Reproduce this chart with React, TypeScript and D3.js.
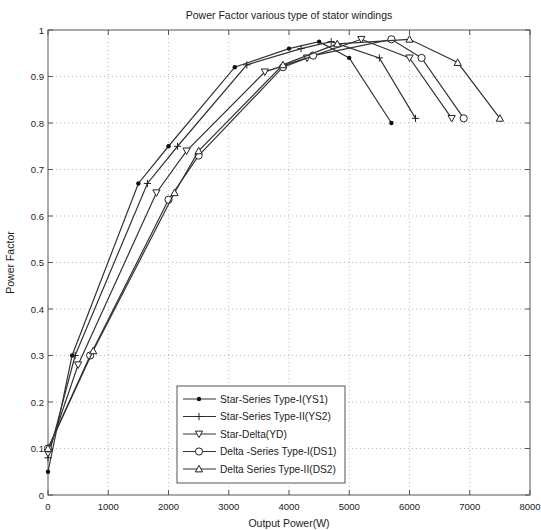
import React from 'react'
import * as d3 from 'd3'

// output power (W) / power factor
const ys1: [number, number][] = [[0, 0.05], [400, 0.30], [1500, 0.67], [2000, 0.75], [3100, 0.92], [4000, 0.96], [4500, 0.975], [5000, 0.94], [5700, 0.80]]
const ys2: [number, number][] = [[0, 0.08], [450, 0.30], [1650, 0.67], [2150, 0.75], [3300, 0.925], [4200, 0.96], [4700, 0.975], [5500, 0.94], [6100, 0.81]]
const yd: [number, number][] = [[0, 0.09], [500, 0.28], [1800, 0.65], [2300, 0.74], [3600, 0.91], [4300, 0.94], [5200, 0.98], [6000, 0.94], [6700, 0.81]]
const ds1: [number, number][] = [[0, 0.1], [700, 0.30], [2000, 0.635], [2500, 0.73], [3900, 0.92], [4400, 0.945], [5700, 0.98], [6200, 0.94], [6900, 0.81]]
const ds2: [number, number][] = [[0, 0.1], [750, 0.31], [2100, 0.65], [2500, 0.74], [3900, 0.925], [4800, 0.97], [6000, 0.98], [6800, 0.93], [7500, 0.81]]

const seriesNames = ['Star-Series Type-I(YS1)', 'Star-Series Type-II(YS2)', 'Star-Delta(YD)', 'Delta -Series Type-I(DS1)', 'Delta Series Type-II(DS2)']
const seriesMarkers = ['dot', 'plus', 'down', 'circle', 'up']
const seriesData = [ys1, ys2, yd, ds1, ds2]

const xTicks = [0, 1000, 2000, 3000, 4000, 5000, 6000, 7000, 8000]
const yTicks = [0, 0.1, 0.2, 0.3, 0.4, 0.5, 0.6, 0.7, 0.8, 0.9, 1]

function Marker({ type, x, y }: { type: string; x: number; y: number }) {
  const s = 3.6
  const st = { fill: 'white', stroke: '#222', strokeWidth: 1 }
  if (type === 'dot') return <circle cx={x} cy={y} r={2.2} fill="#111" />
  if (type === 'plus') return <path d={`M${x - s} ${y}H${x + s}M${x} ${y - s}V${y + s}`} stroke="#222" strokeWidth={1} />
  if (type === 'circle') return <circle cx={x} cy={y} r={s} {...st} />
  if (type === 'down') return <path d={`M${x - s} ${y - s * 0.8}H${x + s}L${x} ${y + s}Z`} {...st} />
  return <path d={`M${x - s} ${y + s * 0.8}H${x + s}L${x} ${y - s}Z`} {...st} />
}

function App() {
  const width = 541
  const height = 530
  const margin = { top: 30, right: 11, bottom: 35, left: 48 }
  const innerW = width - margin.left - margin.right
  const innerH = height - margin.top - margin.bottom

  const xScale = d3.scaleLinear().domain([0, 8000]).range([0, innerW])
  const yScale = d3.scaleLinear().domain([0, 1]).range([innerH, 0])
  const line = d3.line<[number, number]>().x(d => xScale(d[0])).y(d => yScale(d[1]))

  const font = '"Liberation Sans", Arial, sans-serif'
  const legend = { x: 129, y: 356, w: 168, h: 97 }

  return (
    <div style={{ position: 'absolute', left: 0, top: 0 }}>
      <svg width={width} height={height} style={{ display: 'block', background: 'white', overflow: 'hidden' }} fontFamily={font}>
        <text x={margin.left + innerW / 2} y={19} textAnchor="middle" fontSize={10.5} fill="#222">Power Factor various type of stator windings</text>
        <g transform={`translate(${margin.left} ${margin.top})`}>
          {/* dotted grid */}
          {xTicks.slice(1, -1).map(t => <line key={'gx' + t} x1={xScale(t)} x2={xScale(t)} y1={0} y2={innerH} stroke="#aaa" strokeWidth={0.8} strokeDasharray="1 3" />)}
          {yTicks.slice(1, -1).map(t => <line key={'gy' + t} x1={0} x2={innerW} y1={yScale(t)} y2={yScale(t)} stroke="#aaa" strokeWidth={0.8} strokeDasharray="1 3" />)}
          <rect x={0} y={0} width={innerW} height={innerH} fill="none" stroke="#555" strokeWidth={1} />
          {/* inward ticks on all sides */}
          {xTicks.map(t => <g key={'tx' + t}>
            <path d={`M${xScale(t)} ${innerH}v-5M${xScale(t)} 0v5`} stroke="#555" />
            <text x={xScale(t)} y={innerH + 15} textAnchor="middle" fontSize={9.5} fill="#222">{t}</text>
          </g>)}
          {yTicks.map(t => <g key={'ty' + t}>
            <path d={`M0 ${yScale(t)}h5M${innerW} ${yScale(t)}h-5`} stroke="#555" />
            <text x={-4} y={yScale(t) + 3.5} textAnchor="end" fontSize={9.5} fill="#222">{t}</text>
          </g>)}

          {seriesData.map((d, i) => <g key={seriesNames[i]}>
            <path d={line(d) || ''} fill="none" stroke="#333" strokeWidth={1.2} />
            {d.map(p => <Marker key={p[0]} type={seriesMarkers[i]} x={xScale(p[0])} y={yScale(p[1])} />)}
          </g>)}

          {/* legend */}
          <g transform={`translate(${legend.x} ${legend.y})`}>
            <rect width={legend.w} height={legend.h} fill="white" stroke="#555" strokeWidth={1} />
            {seriesNames.map((name, i) => <g key={name} transform={`translate(0 ${13 + i * 17.5})`}>
              <line x1={6} x2={39} y1={0} y2={0} stroke="#333" strokeWidth={1.2} />
              <Marker type={seriesMarkers[i]} x={22} y={0} />
              <text x={43} y={3.5} fontSize={10.2} fill="#222">{name}</text>
            </g>)}
          </g>
        </g>
        <text x={margin.left + innerW / 2} y={527} textAnchor="middle" fontSize={10.5} fill="#222">Output Power(W)</text>
        <text transform={`translate(14 ${margin.top + innerH / 2}) rotate(-90)`} textAnchor="middle" fontSize={10.5} fill="#222">Power Factor</text>
      </svg>
    </div>
  )
}

export default App
